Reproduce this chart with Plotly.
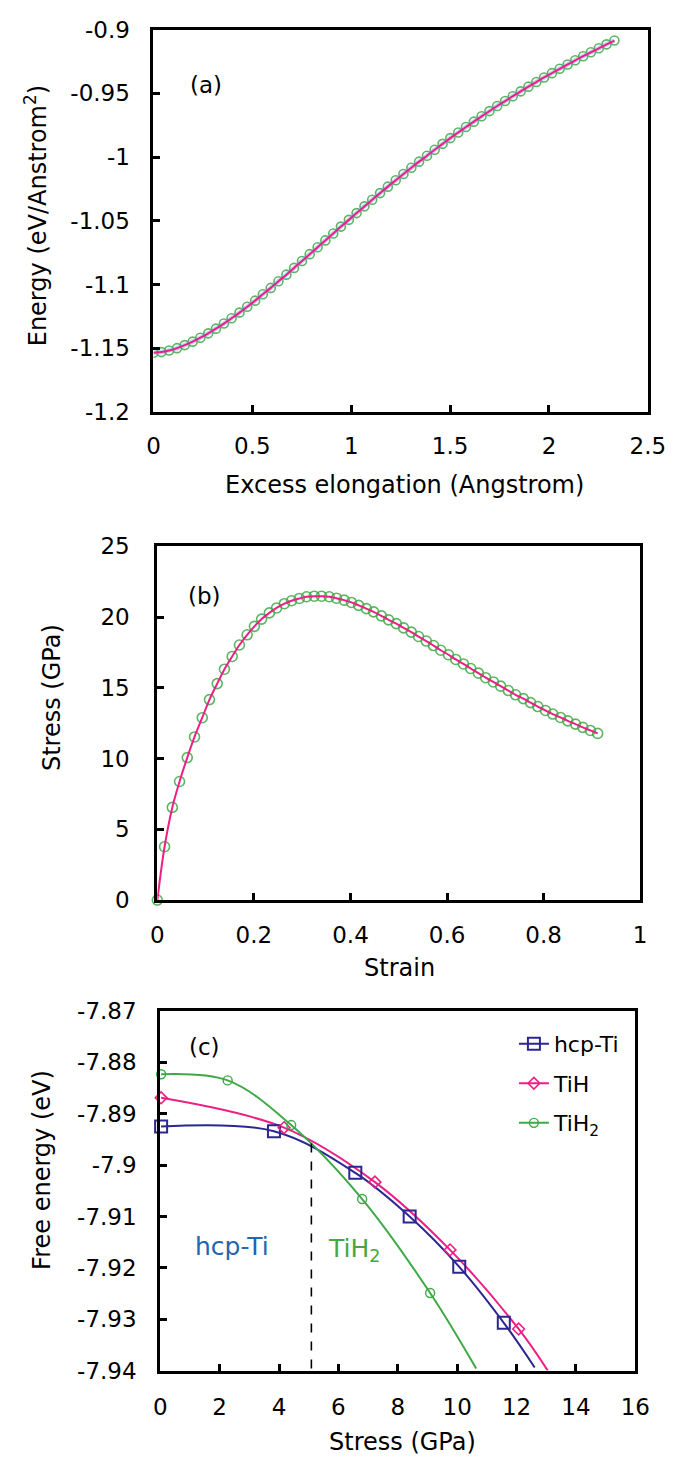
import plotly.graph_objects as go

W, H = 689, 1472
FONT = "DejaVu Sans, Liberation Sans, Arial, sans-serif"

# ---------------- (a) energy vs. excess elongation ----------------
elong = [0, 0.04, 0.079, 0.119, 0.158, 0.198, 0.237, 0.277, 0.316, 0.356,
         0.395, 0.435, 0.474, 0.514, 0.553, 0.593, 0.632, 0.672, 0.711, 0.751,
         0.79, 0.83, 0.869, 0.909, 0.948, 0.988, 1.027, 1.067, 1.106, 1.146,
         1.185, 1.225, 1.264, 1.304, 1.343, 1.383, 1.422, 1.462, 1.501, 1.541,
         1.58, 1.62, 1.659, 1.699, 1.738, 1.778, 1.817, 1.857, 1.896, 1.936,
         1.975, 2.015, 2.054, 2.094, 2.133, 2.173, 2.212, 2.252, 2.291, 2.331]
energy = [-1.1536, -1.1531, -1.1518, -1.1500, -1.1476, -1.1449, -1.1418, -1.1384, -1.1347, -1.1307,
          -1.1265, -1.1221, -1.1175, -1.1127, -1.1077, -1.1027, -1.0975, -1.0923, -1.0870, -1.0816,
          -1.0762, -1.0708, -1.0654, -1.0600, -1.0546, -1.0493, -1.0440, -1.0387, -1.0335, -1.0283,
          -1.0232, -1.0182, -1.0133, -1.0084, -1.0036, -0.9989, -0.9942, -0.9896, -0.9851, -0.9807,
          -0.9764, -0.9722, -0.9680, -0.9639, -0.9599, -0.9560, -0.9522, -0.9484, -0.9447, -0.9411,
          -0.9375, -0.9341, -0.9307, -0.9273, -0.9240, -0.9208, -0.9177, -0.9146, -0.9115, -0.9085]
a_xticks = [0, 0.5, 1, 1.5, 2, 2.5]
a_xtext = ["0", "0.5", "1", "1.5", "2", "2.5"]
a_yticks = [-1.2, -1.15, -1.1, -1.05, -1.0, -0.95, -0.9]
a_ytext = ["-1.2", "-1.15", "-1.1", "-1.05", "-1", "-0.95", "-0.9"]

# ---------------- (b) stress vs. strain ----------------
strain = [0, 0.015, 0.031, 0.046, 0.062, 0.077, 0.093, 0.108, 0.124, 0.139,
          0.155, 0.17, 0.186, 0.201, 0.216, 0.232, 0.247, 0.263, 0.278, 0.294,
          0.309, 0.325, 0.34, 0.356, 0.371, 0.387, 0.402, 0.417, 0.433, 0.448,
          0.464, 0.479, 0.495, 0.51, 0.526, 0.541, 0.557, 0.572, 0.587, 0.603,
          0.618, 0.634, 0.649, 0.665, 0.68, 0.696, 0.711, 0.727, 0.742, 0.758,
          0.773, 0.788, 0.804, 0.819, 0.835, 0.85, 0.866, 0.881, 0.897, 0.912]
stress = [0, 3.77, 6.55, 8.38, 10.07, 11.53, 12.89, 14.17, 15.30, 16.32,
          17.22, 18.03, 18.75, 19.35, 19.86, 20.30, 20.65, 20.95, 21.16, 21.32,
          21.44, 21.48, 21.48, 21.44, 21.34, 21.20, 21.04, 20.83, 20.60, 20.37,
          20.09, 19.81, 19.54, 19.24, 18.94, 18.63, 18.31, 17.99, 17.66, 17.34,
          17.01, 16.69, 16.37, 16.04, 15.72, 15.42, 15.12, 14.81, 14.51, 14.24,
          13.96, 13.68, 13.40, 13.15, 12.91, 12.67, 12.44, 12.21, 11.99, 11.78]
b_xticks = [0, 0.2, 0.4, 0.6, 0.8, 1]
b_xtext = ["0", "0.2", "0.4", "0.6", "0.8", "1"]
b_yticks = [0, 5, 10, 15, 20, 25]
b_ytext = ["0", "5", "10", "15", "20", "25"]

# ---------------- (c) free energy vs. stress ----------------
hcp_x = [0.03, 3.83, 6.57, 8.40, 10.07, 11.57]
hcp_y = [-7.8925, -7.8934, -7.9015, -7.9100, -7.9198, -7.9307]
hcp_end = [12.61, -7.9394]
tih_x = [0.03, 4.17, 7.23, 9.76, 12.07]
tih_y = [-7.8869, -7.8927, -7.9033, -7.9165, -7.9319]
tih_end = [13.05, -7.9400]
tih2_x = [0.03, 2.27, 4.41, 6.80, 9.09]
tih2_y = [-7.8823, -7.8835, -7.8922, -7.9066, -7.9249]
tih2_end = [10.64, -7.9396]
transition = [5.09, -7.8958]
c_xticks = [0, 2, 4, 6, 8, 10, 12, 14, 16]
c_xtext = ["0", "2", "4", "6", "8", "10", "12", "14", "16"]
c_yticks = [-7.94, -7.93, -7.92, -7.91, -7.90, -7.89, -7.88, -7.87]
c_ytext = ["-7.94", "-7.93", "-7.92", "-7.91", "-7.9", "-7.89", "-7.88", "-7.87"]

NAVY = "#2c2690"
PINK = "#ee1f84"
GREEN = "#3fa847"
GREEN_LIGHT = "rgba(63,168,71,0.85)"


def px_x(p):
    return p / W


def px_y(p):
    return 1 - p / H


def axis(domain, rng, vals, text, anchor, standoff):
    return dict(domain=domain, range=rng, tickvals=vals, ticktext=text, anchor=anchor,
                showline=True, linecolor="black", linewidth=3, mirror=True,
                ticks="inside", ticklen=7, tickwidth=3, tickcolor="black",
                showgrid=False, zeroline=False, fixedrange=True,
                ticklabelstandoff=standoff,
                tickfont=dict(size=23, color="black", family=FONT))


fig = go.Figure()

# panel (a)
fig.add_trace(go.Scatter(x=elong, y=energy, mode="markers", xaxis="x", yaxis="y",
                         marker=dict(symbol="circle-open", size=9, color=GREEN_LIGHT,
                                     line=dict(width=1.6)),
                         cliponaxis=True, showlegend=False))
fig.add_trace(go.Scatter(x=elong, y=energy, mode="lines", xaxis="x", yaxis="y",
                         line=dict(color="rgba(120,160,225,0.45)", width=4.5, shape="spline"),
                         showlegend=False))
fig.add_trace(go.Scatter(x=elong, y=energy, mode="lines", xaxis="x", yaxis="y",
                         line=dict(color=PINK, width=2, shape="spline"), showlegend=False))

# panel (b)
fig.add_trace(go.Scatter(x=strain, y=stress, mode="markers", xaxis="x2", yaxis="y2",
                         marker=dict(symbol="circle-open", size=10, color=GREEN_LIGHT,
                                     line=dict(width=1.6)),
                         cliponaxis=False, showlegend=False))
fig.add_trace(go.Scatter(x=strain, y=stress, mode="lines", xaxis="x2", yaxis="y2",
                         line=dict(color=PINK, width=2, shape="spline"), showlegend=False))

# panel (c): smooth curves running down to the lower frame, then the data markers
series_c = [
    ("hcp-Ti", hcp_x, hcp_y, hcp_end, NAVY, "square-open", 12, 2.0),
    ("TiH", tih_x, tih_y, tih_end, PINK, "diamond-open", 9, 1.6),
    ("TiH<sub>2</sub>", tih2_x, tih2_y, tih2_end, GREEN, "circle-open", 9, 1.4),
]
for name, xs, ys, end, col, sym, size, mw in series_c:
    fig.add_trace(go.Scatter(x=xs + [end[0]], y=ys + [end[1]], mode="lines",
                             xaxis="x3", yaxis="y3",
                             line=dict(color=col, width=2, shape="spline"),
                             showlegend=False))
for name, xs, ys, end, col, sym, size, mw in series_c:
    fig.add_trace(go.Scatter(x=xs, y=ys, mode="markers", xaxis="x3", yaxis="y3",
                             marker=dict(symbol=sym, size=size, color=col, line=dict(width=mw)),
                             cliponaxis=False, showlegend=False))
for name, xs, ys, end, col, sym, size, mw in series_c:
    fig.add_trace(go.Scatter(x=[None], y=[None], mode="lines+markers", name=name,
                             xaxis="x3", yaxis="y3", legendgroup=name,
                             line=dict(color=col, width=2),
                             marker=dict(symbol=sym, size=size, color=col, line=dict(width=mw))))

# dashed phase boundary
fig.add_trace(go.Scatter(x=[transition[0], transition[0]], y=[transition[1], c_yticks[0]],
                         mode="lines", xaxis="x3", yaxis="y3",
                         line=dict(color="black", width=1.6, dash="dash"), showlegend=False))

layout = dict(
    width=W, height=H, margin=dict(l=0, r=0, t=0, b=0),
    paper_bgcolor="white", plot_bgcolor="white",
    font=dict(family=FONT, size=23, color="black"),
    xaxis=axis([px_x(152), px_x(665)], [0, 2.5], a_xticks, a_xtext, "y", 12),
    yaxis=axis([px_y(406), px_y(17)], [-1.2, -0.9], a_yticks, a_ytext, "x", 16),
    xaxis2=axis([px_x(156), px_x(657)], [0, 1], b_xticks, b_xtext, "y2", 12),
    yaxis2=axis([px_y(903), px_y(543)], [0, 25], b_yticks, b_ytext, "x2", 20),
    xaxis3=axis([px_x(159), px_x(652)], [0, 16], c_xticks, c_xtext, "y3", 14),
    yaxis3=axis([px_y(1382), px_y(1016)], [-7.94, -7.87], c_yticks, c_ytext, "x3", 16),
    legend=dict(x=px_x(526), y=px_y(1028), xanchor="left", yanchor="top",
                bgcolor="rgba(0,0,0,0)", tracegroupgap=8,
                font=dict(size=22, color="black", family=FONT)),
    showlegend=True,
)
fig.update_layout(**layout)


def label(text, x, y, size=24, color="black", angle=0):
    fig.add_annotation(text=text, x=px_x(x), y=px_y(y), xref="paper", yref="paper",
                       showarrow=False, textangle=angle, xanchor="center", yanchor="middle",
                       font=dict(size=size, color=color, family=FONT))


# axis titles
label("Excess elongation (Angstrom)", 412, 480, 24)
label("Energy (eV/Anstrom<sup>2</sup>)", 30, 206, 24, angle=-90)
label("Strain", 407, 972, 24)
label("Stress (GPa)", 46, 697, 24, angle=-90)
label("Stress (GPa)", 410, 1455, 24)
label("Free energy (eV)", 36, 1178, 24, angle=-90)

# panel tags
label("(a)", 207, 73, 23)
label("(b)", 205, 593, 23)
label("(c)", 205, 1053, 23)

# phase-region labels
label("hcp-Ti", 233, 1256, 25, color="#2464b0")
label("TiH<sub>2</sub>", 360, 1259, 25, color="#45a843")

fig.write_html("out.html")
